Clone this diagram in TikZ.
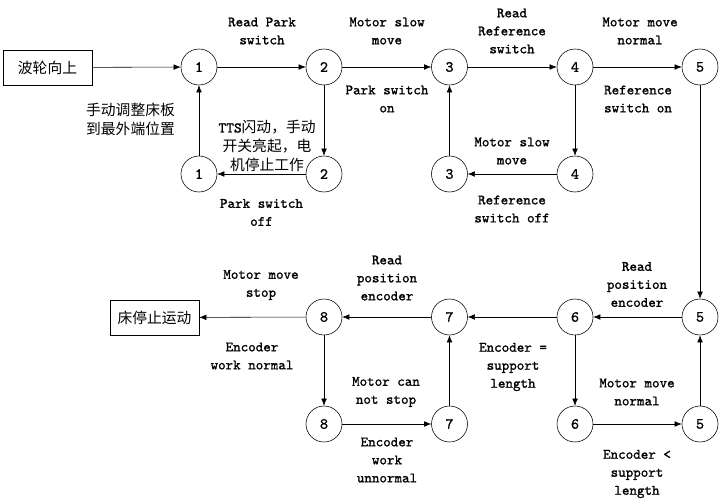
\documentclass[tikz,border=0pt]{standalone}
\usepackage{fontspec}
\newfontfamily\cjk{Noto Sans CJK SC}
\newfontfamily\lblfont[FakeBold=1.2]{Latin Modern Mono}
\usetikzlibrary{arrows.meta}

\begin{document}
\begin{tikzpicture}[x=0.025cm, y=-0.025cm, >={Latex[length=5pt,width=4pt]},
    state/.style={draw, circle, minimum size=0.9cm, inner sep=0pt, font=\lblfont\fontsize{11}{12}\selectfont},
    endbox/.style={draw, rectangle, minimum width=2.225cm, minimum height=0.875cm, inner sep=0pt, font=\cjk\fontsize{10.5}{13}\selectfont},
    lbl/.style={align=center, inner sep=0pt, font=\lblfont\fontsize{10.2}{12.8}\selectfont},
    zh/.style={align=center, inner sep=0pt, font=\cjk\fontsize{10.5}{13.6}\selectfont}]
    \useasboundingbox (0,0) rectangle (720,504);
    % top row
    \node[endbox] (start) at (47.5,67.5) {波轮向上};
    \node[state] (a1) at (199,67) {1};
    \node[state] (a2) at (324,67) {2};
    \node[state] (a3) at (449.5,67) {3};
    \node[state] (a4) at (575,67) {4};
    \node[state] (a5) at (700,67) {5};
    % second row
    \node[state] (b1) at (199,174) {1};
    \node[state] (b2) at (324,174) {2};
    \node[state] (b3) at (449.5,174) {3};
    \node[state] (b4) at (575,174) {4};
    % third row
    \node[endbox] (stop) at (154.5,317.5) {床停止运动};
    \node[state] (c8) at (324,317) {8};
    \node[state] (c7) at (449.5,317) {7};
    \node[state] (c6) at (575,317) {6};
    \node[state] (c5) at (700,317) {5};
    % bottom row
    \node[state] (d8) at (324,424) {8};
    \node[state] (d7) at (449.5,424) {7};
    \node[state] (d6) at (575,424) {6};
    \node[state] (d5) at (700,424) {5};

    % connectors
    \draw[->] (start) -- (a1);
    \draw[->] (a1) -- (a2);
    \draw[->] (a2) -- (a3);
    \draw[->] (a3) -- (a4);
    \draw[->] (a4) -- (a5);
    \draw[->] (a2) -- (b2);
    \draw[->] (b2) -- (b1);
    \draw[->] (b1) -- (a1);
    \draw[->] (a4) -- (b4);
    \draw[->] (b4) -- (b3);
    \draw[->] (b3) -- (a3);
    \draw[->] (a5) -- (c5);
    \draw[->] (c5) -- (c6);
    \draw[->] (c6) -- (c7);
    \draw[->] (c7) -- (c8);
    \draw[->] (c8) -- (stop);
    \draw[->] (c6) -- (d6);
    \draw[->] (d6) -- (d5);
    \draw[->] (d5) -- (c5);
    \draw[->] (c8) -- (d8);
    \draw[->] (d8) -- (d7);
    \draw[->] (d7) -- (c7);

    % labels, upper half
    \node[lbl] (t12) at (262,31) {Read Park\\switch};
    \node[lbl] (t23) at (387,31) {Motor slow\\move};
    \node[lbl] (t34) at (512,31) {Read\\Reference\\switch};
    \node[lbl] (t45) at (640,31) {Motor move\\normal};
    \node[lbl] (u23) at (387,99) {Park switch\\on};
    \node[lbl] (u45) at (638,99) {Reference\\switch on};
    \node[zh] (v11) at (130.5,119) {手动调整床板\\到最外端位置};
    \node[zh] (v22) at (267,146) {{\lblfont TTS}闪动，手动\\开关亮起，电\\机停止工作};
    \node[lbl] (w21) at (261.5,212.5) {Park switch\\off};
    \node[lbl] (v43) at (512,151) {Motor slow\\move};
    \node[lbl] (w43) at (512,209) {Reference\\switch off};
    % labels, lower half
    \node[lbl] (t8s) at (261,285) {Motor move\\stop};
    \node[lbl] (u8s) at (252,356) {Encoder\\work normal};
    \node[lbl] (t78) at (387,278) {Read\\position\\encoder};
    \node[lbl] (t56) at (637,284.5) {Read\\position\\encoder};
    \node[lbl] (u67) at (513,367) {Encoder =\\support\\length};
    \node[lbl] (v87) at (386,392) {Motor can\\not stop};
    \node[lbl] (w87) at (387,460) {Encoder\\work\\unnormal};
    \node[lbl] (v65) at (637,392) {Motor move\\normal};
    \node[lbl] (w65) at (637,474) {Encoder <\\support\\length};
\end{tikzpicture}
\end{document}
